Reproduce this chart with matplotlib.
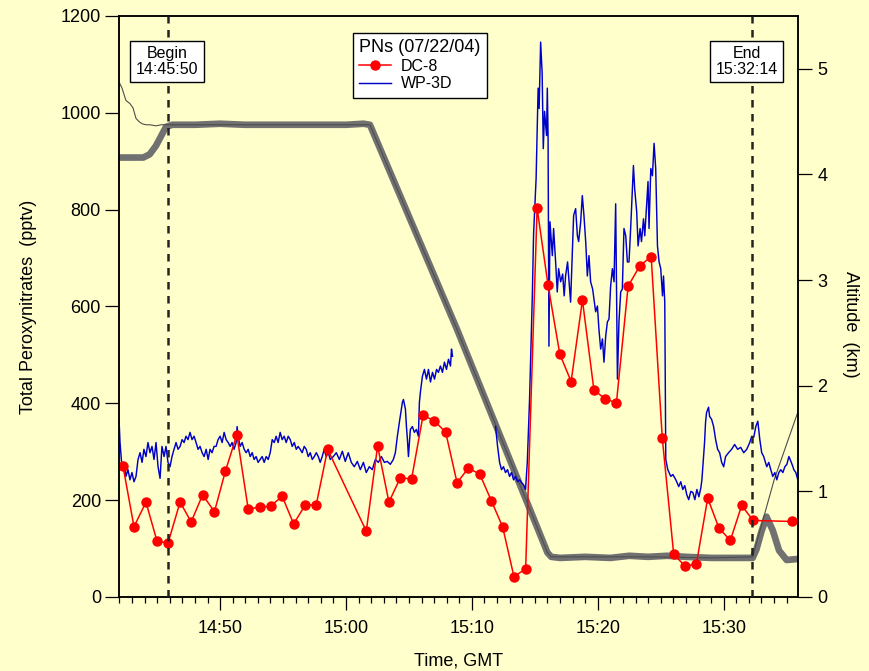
import numpy as np
import matplotlib
matplotlib.use("Agg")
import matplotlib.pyplot as plt
from matplotlib.ticker import MultipleLocator

plt.rcParams['font.family'] = ['Liberation Sans', 'DejaVu Sans']

# time in minutes after 14:00 GMT
dc8_t = [42.28, 43.16, 44.11, 44.98, 45.86, 46.82, 47.70, 48.61, 49.55, 50.42,
         51.33, 52.23, 53.13, 54.03, 54.93, 55.84, 56.74, 57.64, 58.54, 61.61,
         62.51, 63.41, 64.31, 65.21, 66.12, 67.02, 67.92, 68.82, 69.72, 70.62,
         71.54, 72.44, 73.34, 74.27, 75.18, 76.05, 76.98, 77.88, 78.78, 79.69,
         80.58, 81.48, 82.41, 83.34, 84.24, 85.12, 86.03, 86.93, 87.83, 88.73,
         89.63, 90.53, 91.43, 92.34, 95.39, 96.30]
dc8_pn = [271, 145, 196, 116, 111, 196, 155, 211, 176, 260,
          335, 182, 185, 188, 208, 151, 189, 191, 305, 136,
          312, 196, 246, 244, 375, 364, 340, 236, 266, 254,
          199, 145, 42, 58, 803, 644, 502, 445, 613, 428,
          409, 401, 642, 684, 703, 329, 88, 64, 68, 204,
          142, 117, 189, 158, 156, 157]

# WP-3D PNs, first leg (ends before the data gap)
wp3d_t1 = [41.97, 42.05, 42.20, 42.36, 42.52, 42.68, 42.84, 43.00, 43.16, 43.32,
           43.48, 43.64, 43.80, 43.95, 44.11, 44.27, 44.43, 44.59, 44.75, 44.91,
           45.07, 45.23, 45.38, 45.55, 45.70, 45.86, 46.02, 46.18, 46.34, 46.50,
           46.66, 46.82, 46.98, 47.14, 47.29, 47.45, 47.61, 47.77, 47.93, 48.09,
           48.25, 48.41, 48.57, 48.73, 48.89, 49.05, 49.20, 49.36, 49.52, 49.68,
           49.84, 50.00, 50.16, 50.32, 50.48, 50.64, 50.80, 50.95, 51.11, 51.27,
           51.35, 51.43, 51.59, 51.75, 51.91, 52.07, 52.23, 52.39, 52.55, 52.70,
           52.86, 53.02, 53.18, 53.34, 53.50, 53.66, 53.82, 53.98, 54.14, 54.30,
           54.45, 54.61, 54.77, 54.93, 55.09, 55.25, 55.41, 55.57, 55.73, 55.89,
           56.05, 56.20, 56.36, 56.52, 56.68, 56.84, 57.00, 57.16, 57.32, 57.48,
           57.64, 57.80, 57.95, 58.11, 58.27, 58.43, 58.59, 58.75, 58.99, 59.23,
           59.47, 59.71, 59.94, 60.18, 60.42, 60.66, 60.90, 61.14, 61.38, 61.61,
           61.85, 62.09, 62.33, 62.57, 62.81, 63.05, 63.28, 63.52, 63.76, 63.92,
           64.08, 64.24, 64.40, 64.48, 64.56, 64.72, 64.80, 64.88, 64.96, 65.11,
           65.27, 65.43, 65.59, 65.75, 65.83, 65.91, 66.07, 66.23, 66.39, 66.55,
           66.71, 66.87, 67.03, 67.19, 67.34, 67.50, 67.66, 67.82, 67.98, 68.14,
           68.30, 68.38, 68.46]
wp3d_pn1 = [367, 319, 269, 278, 249, 263, 242, 257, 238, 249,
            284, 298, 278, 305, 290, 319, 298, 311, 284, 319,
            269, 245, 311, 290, 311, 278, 269, 290, 305, 319,
            305, 311, 325, 319, 332, 325, 340, 325, 332, 319,
            305, 311, 298, 290, 305, 284, 305, 298, 311, 311,
            325, 332, 319, 340, 325, 319, 311, 319, 305, 319,
            352, 332, 311, 319, 305, 298, 305, 290, 298, 284,
            290, 278, 284, 290, 278, 290, 284, 298, 325, 319,
            332, 319, 340, 325, 332, 319, 332, 325, 311, 319,
            305, 311, 305, 298, 311, 305, 290, 298, 284, 290,
            298, 290, 278, 290, 305, 290, 298, 284, 290, 298,
            284, 301, 280, 298, 278, 269, 280, 263, 278, 257,
            269, 263, 284, 278, 290, 278, 280, 274, 284, 298,
            332, 361, 388, 402, 408, 388, 352, 325, 290, 346,
            352, 340, 346, 332, 402, 423, 456, 470, 450, 470,
            444, 464, 450, 470, 464, 477, 464, 485, 470, 491,
            477, 512, 497]

# WP-3D PNs, second leg
wp3d_t2 = [71.88, 72.04, 72.20, 72.35, 72.51, 72.67, 72.83, 72.99, 73.15, 73.31,
           73.47, 73.63, 73.79, 73.94, 74.10, 74.26, 74.40, 74.58, 74.80, 74.90,
           75.10, 75.26, 75.34, 75.46, 75.58, 75.67, 75.77, 75.93, 75.99, 76.05,
           76.12, 76.20, 76.39, 76.49, 76.65, 76.78, 76.89, 77.05, 77.21, 77.33,
           77.44, 77.60, 77.72, 77.84, 77.96, 78.08, 78.24, 78.38, 78.48, 78.64,
           78.77, 78.90, 79.04, 79.17, 79.30, 79.43, 79.59, 79.83, 79.97, 80.09,
           80.23, 80.37, 80.49, 80.63, 80.76, 80.89, 81.02, 81.16, 81.29, 81.42,
           81.56, 81.68, 81.82, 81.95, 82.08, 82.22, 82.35, 82.48, 82.62, 82.83,
           82.93, 83.09, 83.20, 83.36, 83.47, 83.63, 83.73, 83.89, 83.99, 84.07,
           84.21, 84.34, 84.47, 84.60, 84.74, 84.87, 85.00, 85.14, 85.22, 85.32,
           85.40, 85.56, 85.80, 85.96, 86.20, 86.43, 86.59, 86.75, 86.91, 87.07,
           87.22, 87.39, 87.55, 87.71, 87.87, 88.03, 88.19, 88.27, 88.48, 88.56,
           88.64, 88.80, 88.88, 89.04, 89.20, 89.36, 89.52, 89.68, 89.84, 90.00,
           90.15, 90.39, 90.63, 90.87, 91.11, 91.35, 91.59, 91.83, 92.07, 92.23,
           92.39, 92.55, 92.71, 92.87, 93.02, 93.18, 93.42, 93.58, 93.74, 93.90,
           94.06, 94.22, 94.38, 94.54, 94.70, 94.86, 95.02, 95.18, 95.34, 95.50,
           95.57, 95.73, 95.89]
wp3d_pn2 = [352, 311, 278, 263, 269, 257, 263, 249, 257, 242,
            249, 238, 242, 236, 232, 222, 278, 408, 622, 750,
            864, 1051, 1009, 1146, 1082, 926, 1003, 953, 1051, 953,
            518, 775, 705, 761, 692, 630, 678, 651, 667, 622,
            663, 692, 651, 609, 698, 788, 802, 746, 734, 775,
            829, 788, 734, 663, 705, 651, 636, 589, 601, 553,
            512, 533, 485, 539, 568, 574, 642, 678, 651, 812,
            450, 568, 630, 636, 761, 746, 692, 692, 767, 891,
            843, 796, 725, 761, 734, 781, 746, 817, 858, 761,
            885, 870, 937, 885, 725, 692, 678, 622, 663, 609,
            284, 263, 249, 253, 242, 228, 238, 222, 230, 211,
            201, 218, 216, 201, 222, 207, 226, 242, 319, 361,
            381, 392, 373, 367, 352, 325, 305, 298, 278, 269,
            290, 298, 305, 315, 305, 309, 298, 305, 319, 332,
            330, 352, 363, 325, 298, 290, 269, 278, 263, 249,
            257, 242, 257, 263, 257, 269, 274, 290, 280, 269,
            263, 257, 242]

# DC-8 altitude (km)
alt_t = [41.90, 43.90, 44.40, 44.90, 45.30, 45.70, 46.20, 48.0, 50.0, 52.0,
         54.0, 56.0, 58.0, 60.0, 61.40, 61.90, 68.83, 76.00, 76.30, 77.0,
         79.0, 81.0, 82.5, 84.0, 85.5, 87.0, 89.0, 91.0, 92.30, 92.60,
         93.00, 93.40, 93.90, 94.40, 95.00, 95.90]
alt_km = [4.16, 4.16, 4.19, 4.27, 4.36, 4.45, 4.47, 4.47, 4.48, 4.47,
          4.47, 4.47, 4.47, 4.47, 4.48, 4.47, 2.53, 0.42, 0.38, 0.37,
          0.38, 0.37, 0.39, 0.38, 0.39, 0.38, 0.37, 0.37, 0.37, 0.45,
          0.62, 0.76, 0.63, 0.44, 0.35, 0.36]

# second altitude trace (thin line)
alt2_t = [41.90, 42.20, 42.52, 42.84, 43.08, 43.32, 43.56, 43.80, 44.11, 44.43,
          44.91, 45.31, 45.70, 46.20, 48.0, 52.0, 56.0, 60.0, 61.90, 68.83,
          76.00, 76.30, 79.0, 84.0, 89.0, 92.30, 94.01, 95.95]
alt2_km = [4.89, 4.82, 4.70, 4.67, 4.63, 4.53, 4.50, 4.48, 4.47, 4.47,
           4.46, 4.47, 4.47, 4.47, 4.47, 4.47, 4.47, 4.47, 4.47, 2.53,
           0.42, 0.38, 0.38, 0.38, 0.37, 0.38, 1.11, 1.77]

begin_t = 45 + 50 / 60   # 14:45:50
end_t = 92 + 14 / 60     # 15:32:14
xtick_pos = [50, 60, 70, 80, 90]
xtick_lab = ['14:50', '15:00', '15:10', '15:20', '15:30']

bg = '#FFFFCC'
fig = plt.figure(figsize=(8.7, 6.71), dpi=100, facecolor=bg)
ax = fig.add_axes([0.1368, 0.1103, 0.7804, 0.8659])
ax2 = ax.twinx()
ax.set_zorder(ax2.get_zorder() + 1)
ax.patch.set_visible(False)
ax2.patch.set_visible(False)

# altitude traces
ax2.plot(alt_t, alt_km, color='#717171', lw=4.8, solid_capstyle='round', solid_joinstyle='round')
ax2.plot(alt2_t, alt2_km, color='#4d4d4d', lw=0.8)
ax2.set_ylim(0, 5.5)
ax2.set_yticks(range(0, 6))

# PN traces
wp_t = wp3d_t1 + [np.nan] + wp3d_t2
wp_pn = wp3d_pn1 + [np.nan] + wp3d_pn2
l_wp, = ax.plot(wp_t, wp_pn, color='#0000cc', lw=1.05)
l_dc, = ax.plot(dc8_t, dc8_pn, color='#ff0000', lw=1.1, marker='o', ms=6.5)

for tt in (begin_t, end_t):
    ax.axvline(tt, color='#222222', lw=1.8, ls=(0, (3, 2.6)), zorder=3)

tr = ax.get_xaxis_transform()
boxprops = dict(boxstyle='square,pad=0.35', fc='white', ec='black', lw=1.0)
ax.text(begin_t - 0.05, 0.9217, 'Begin\n14:45:50', transform=tr, ha='center', va='center',
        fontsize=11.5, linespacing=1.05, bbox=boxprops, zorder=6)
ax.text(end_t - 0.4, 0.9217, 'End\n15:32:14', transform=tr, ha='center', va='center',
        fontsize=11.5, linespacing=1.05, bbox=boxprops, zorder=6)

ax.set_xlim(41.97, 95.9)
ax.set_ylim(0, 1200)
ax.set_yticks(range(0, 1201, 200))
ax.set_xticks(xtick_pos)
ax.set_xticklabels(xtick_lab)
ax.xaxis.set_minor_locator(MultipleLocator(1))

ax.tick_params(axis='x', which='major', direction='out', length=9.5, width=0.9, pad=7, labelsize=13)
ax.tick_params(axis='x', which='minor', direction='out', length=4.5, width=0.9)
ax.tick_params(axis='y', direction='out', length=10, width=0.9, pad=3, labelsize=13)
ax2.tick_params(axis='y', direction='out', length=10, width=0.9, pad=4, labelsize=13)
for a in (ax, ax2):
    for s in a.spines.values():
        s.set_linewidth(1.1)

ax.set_ylabel('Total Peroxynitrates  (pptv)', fontsize=13, va='center')
ax.yaxis.set_label_coords(-0.134, 0.5)
ax2.set_ylabel('Altitude  (km)', fontsize=13, rotation=270, va='center')
ax2.yaxis.set_label_coords(1.077, 0.47)
ax.set_xlabel('Time, GMT', fontsize=13, va='center')
ax.xaxis.set_label_coords(0.5, -0.11)

leg = ax.legend([l_dc, l_wp], ['DC-8', 'WP-3D'], title='PNs (07/22/04)',
                loc='upper left', bbox_to_anchor=(0.3446, 0.9707), borderaxespad=0,
                fontsize=11.5, title_fontsize=13, fancybox=False, edgecolor='black',
                framealpha=1, handlelength=2.0, handletextpad=0.6, borderpad=0.4,
                labelspacing=0.15, alignment='left')
leg.get_frame().set_linewidth(1.0)
leg.set_zorder(7)

fig.savefig('out.png', dpi=100, facecolor=bg)
